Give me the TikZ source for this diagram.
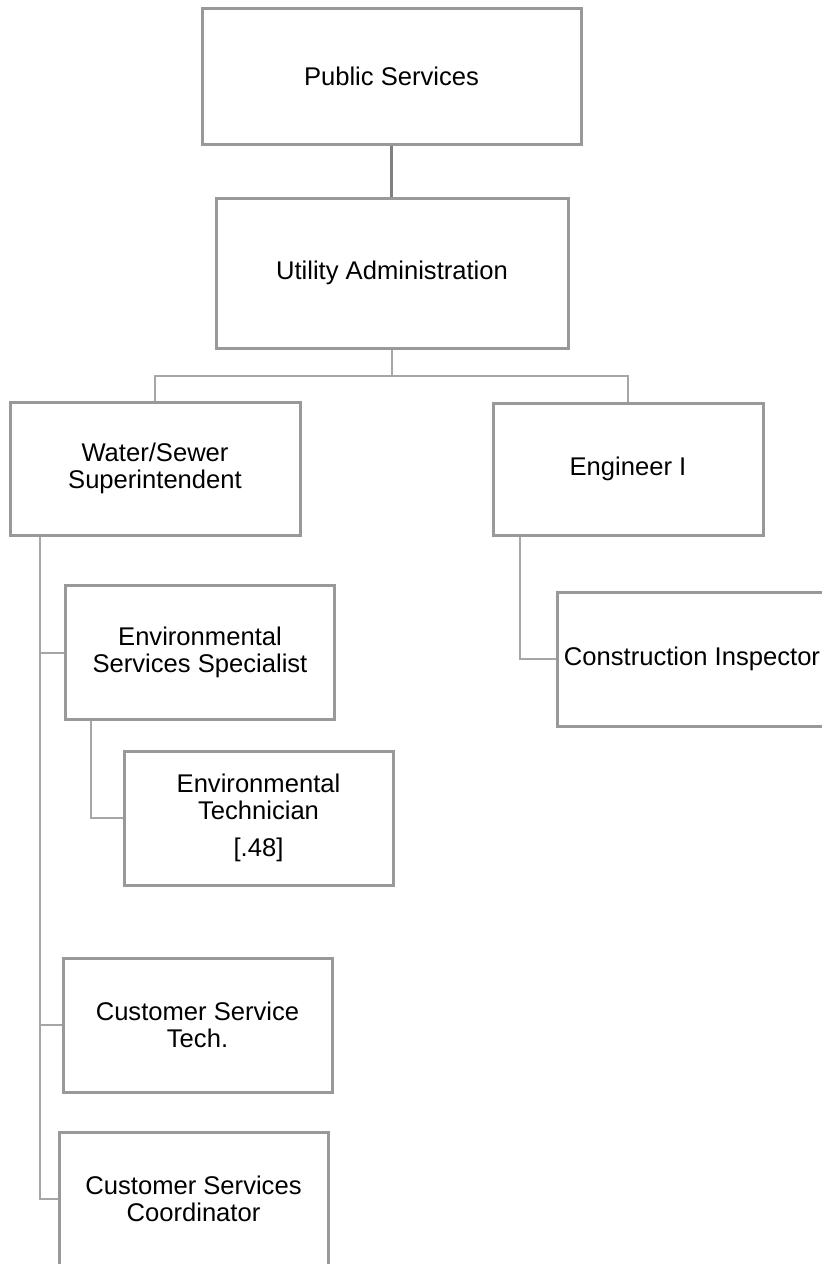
\documentclass[tikz,border=0pt]{standalone}
\usepackage{fontspec}
\setmainfont{Liberation Sans}
\definecolor{boxgray}{RGB}{153,153,153}
\definecolor{linkgray}{RGB}{166,166,166}
\definecolor{topgray}{RGB}{128,128,128}

\begin{document}
\begin{tikzpicture}[x=0.5pt,y=-0.5pt,
  box/.style={draw=boxgray,line width=1.5pt,fill=white,inner sep=0pt,
    minimum width=134.5pt,minimum height=67pt,align=center,
    font=\fontsize{12.8}{13.6}\selectfont},
  link/.style={draw=linkgray,line width=1pt},
  toplink/.style={draw=topgray,line width=1.5pt}]
  \clip (0,0) rectangle (822,1264);

  \node[box,minimum width=189.5pt,minimum height=68pt] (ps) at (391.5,76) {Public Services};
  \node[box,minimum width=176pt,minimum height=75pt] (ua) at (392,273) {Utility Administration};

  \node[box,minimum width=145pt,minimum height=66.5pt] (ws) at (155,468.5) {Water/Sewer\\Superintendent};
  \node[box,minimum width=135pt,minimum height=66pt] (ei) at (628,469) {Engineer I};

  \node[box] (ess) at (200,652.5) {Environmental\\Services Specialist};
  \node[box] (et) at (258.5,818) {Environmental\\Technician\\[5pt]{[.48]}};
  \node[box,minimum width=135pt] (ci) at (692,659) {Construction Inspector};
  \node[box] (cst) at (197.5,1025) {Customer Service\\Tech.};
  \node[box] (csc) at (193.5,1199) {Customer Services\\Coordinator};

  \draw[toplink] (ps.south) -- (ps.south |- ua.north);
  \draw[link] (ua.south) -- ++(0,26) -| (ws.north);
  \draw[link] (ua.south) -- ++(0,26) -| (ei.north);

  % left column
  \draw[link] ([xshift=15.5pt]ws.south west) |- (ess.west);
  \draw[link] ([xshift=15.5pt]ws.south west) |- (cst.west);
  \draw[link] ([xshift=15.5pt]ws.south west) |- (csc.west);
  \draw[link] ([xshift=13.5pt]ess.south west) |- (et.west);

  % right column
  \draw[link] ([xshift=14pt]ei.south west) |- (ci.west);
\end{tikzpicture}
\end{document}
